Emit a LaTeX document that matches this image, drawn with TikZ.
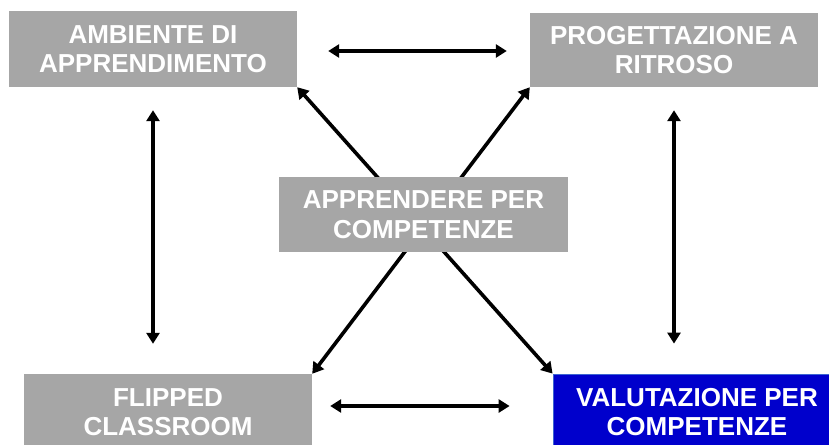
\documentclass[tikz,border=0pt]{standalone}
\usepackage{fontspec}
\setmainfont{Liberation Sans}
\usetikzlibrary{arrows.meta,calc}

\definecolor{boxgray}{RGB}{166,166,166}
\definecolor{boxblue}{RGB}{0,0,204}
\definecolor{edgeblue}{RGB}{60,100,210}

\begin{document}
\begin{tikzpicture}[x=1pt,y=-1pt,
    topic/.style={fill=boxgray, text=white, align=center, inner sep=0pt,
        minimum width=288pt, minimum height=76pt,
        font=\fontsize{26}{29.5}\selectfont\bfseries},
    link/.style={{Triangle[length=11pt,width=13pt]}-{Triangle[length=11pt,width=13pt]}, line width=3.6pt}]
  \useasboundingbox (0,0) rectangle (829,444);
  \clip (0,0) rectangle (829,444);

  \node[topic] (amb) at (153,49) {AMBIENTE DI\\APPRENDIMENTO};
  \node[topic, minimum height=74pt] (prog) at (674,50) {PROGETTAZIONE A\\RITROSO};
  \node[topic] (flip) at (168,412) {FLIPPED\\CLASSROOM};
  \node[topic, fill=boxblue, draw=edgeblue, line width=0.8pt] (val) at (697,412) {VALUTAZIONE PER\\COMPETENZE};

  % diagonali dietro il riquadro centrale
  \draw[link] (amb.south east) -- (val.north west);
  \draw[link] (prog.south west) -- (flip.north east);

  \node[topic, minimum width=289pt, minimum height=75pt] (app) at (423.5,214.5) {APPRENDERE PER\\COMPETENZE};

  \draw[link, shorten <=31pt, shorten >=23pt] ($(amb.east)+(0,2)$) -- ($(prog.west)+(0,1)$);
  \draw[link] ($(flip.east)+(18,-6)$) -- ($(val.west)+(-43,-6)$);
  \draw[link, shorten <=23pt, shorten >=30pt] (amb.south) -- (amb.south |- flip.north);
  \draw[link, shorten <=23pt, shorten >=30pt] (prog.south) -- (prog.south |- val.north);
\end{tikzpicture}
\end{document}
